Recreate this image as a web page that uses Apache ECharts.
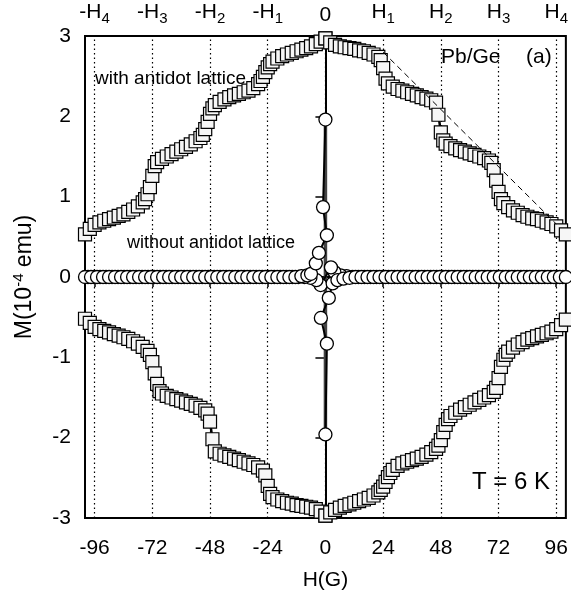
<!DOCTYPE html>
<html><head><meta charset="utf-8">
<script src="https://cdn.jsdelivr.net/npm/echarts@6/dist/echarts.min.js"></script>
<style>html,body{margin:0;padding:0;background:#fff}#c{width:571px;height:606px}</style>
</head><body><div id="c"></div>
<script>
// ---- axis ticks / labels ----
const xTicks = [-96,-72,-48,-24,0,24,48,72,96];
const xTickLabels = ['-96','-72','-48','-24','0','24','48','72','96'];
const topLabels = ['-H4','-H3','-H2','-H1','0','H1','H2','H3','H4'];

// ---- with antidot lattice (squares) ----
const ulH = [-100,-98,-96,-94,-92,-90,-88,-86,-84,-82,-80,-78,-76,-75,-74,-73,-72,-71,-70,-68,-66,-64,-62,-60,-58,-56,-54,-52,-51,-50,-49,-48,-47,-46,-44,-42,-40,-38,-36,-34,-32,-30,-28,-27,-26,-25,-24,-23,-22,-20,-18,-16,-14,-12,-10,-8,-6,-4,-2,0];
const ulM = [0.53,0.60,0.65,0.68,0.70,0.72,0.74,0.76,0.78,0.81,0.84,0.88,0.93,0.97,1.03,1.12,1.26,1.38,1.43,1.47,1.50,1.53,1.56,1.59,1.62,1.65,1.69,1.73,1.77,1.84,1.93,2.03,2.10,2.14,2.18,2.21,2.24,2.26,2.28,2.30,2.32,2.35,2.40,2.44,2.49,2.55,2.61,2.65,2.68,2.72,2.75,2.77,2.79,2.81,2.83,2.85,2.87,2.90,2.93,2.97];
const urH = [0,2,4,6,8,10,12,14,16,18,20,22,23,24,25,26,28,30,32,34,36,38,40,42,44,46,47,48,49,50,52,54,56,58,60,62,64,66,68,69,70,71,72,73,74,76,78,80,82,84,86,88,90,92,94,96,98,100];
const urM = [2.97,2.92,2.89,2.87,2.86,2.85,2.84,2.82,2.81,2.79,2.77,2.74,2.70,2.60,2.47,2.41,2.37,2.34,2.32,2.30,2.28,2.26,2.24,2.22,2.20,2.17,2.02,1.80,1.70,1.66,1.63,1.60,1.58,1.56,1.54,1.52,1.50,1.48,1.45,1.42,1.33,1.20,1.06,0.97,0.92,0.87,0.83,0.80,0.77,0.75,0.73,0.72,0.70,0.68,0.66,0.63,0.58,0.53];
const llH = [-100,-98,-96,-94,-92,-90,-88,-86,-84,-82,-80,-78,-76,-74,-73,-72,-71,-70,-69,-68,-66,-64,-62,-60,-58,-56,-54,-52,-50,-49,-48,-47,-46,-44,-42,-40,-38,-36,-34,-32,-30,-28,-26,-25,-24,-23,-22,-20,-18,-16,-14,-12,-10,-8,-6,-4,-2,0];
const llM = [-0.52,-0.57,-0.62,-0.65,-0.67,-0.69,-0.71,-0.73,-0.75,-0.77,-0.80,-0.83,-0.87,-0.92,-0.97,-1.06,-1.20,-1.33,-1.42,-1.45,-1.48,-1.50,-1.52,-1.54,-1.56,-1.58,-1.60,-1.63,-1.66,-1.70,-1.80,-2.02,-2.17,-2.20,-2.22,-2.24,-2.26,-2.28,-2.30,-2.32,-2.34,-2.37,-2.41,-2.47,-2.60,-2.70,-2.74,-2.77,-2.79,-2.81,-2.82,-2.84,-2.85,-2.86,-2.87,-2.89,-2.92,-2.97];
const lrH = [0,2,4,6,8,10,12,14,16,18,20,22,23,24,25,26,27,28,30,32,34,36,38,40,42,44,46,47,48,49,50,51,52,54,56,58,60,62,64,66,68,70,71,72,73,74,75,76,78,80,82,84,86,88,90,92,94,96,98,100];
const lrM = [-2.97,-2.93,-2.90,-2.87,-2.85,-2.83,-2.81,-2.79,-2.77,-2.75,-2.72,-2.68,-2.65,-2.61,-2.55,-2.49,-2.44,-2.40,-2.35,-2.32,-2.30,-2.28,-2.26,-2.24,-2.21,-2.18,-2.14,-2.10,-2.03,-1.93,-1.84,-1.77,-1.73,-1.69,-1.65,-1.62,-1.59,-1.56,-1.53,-1.50,-1.47,-1.43,-1.38,-1.26,-1.12,-1.03,-0.97,-0.93,-0.88,-0.84,-0.81,-0.78,-0.76,-0.74,-0.72,-0.70,-0.68,-0.65,-0.60,-0.53];

// ---- without antidot lattice (circles) ----
const cAH = [-100,-97.5,-95,-92.5,-90,-87.5,-85,-82.5,-80,-77.5,-75,-72.5,-70,-67.5,-65,-62.5,-60,-57.5,-55,-52.5,-50,-47.5,-45,-42.5,-40,-37.5,-35,-32.5,-30,-27.5,-25,-22.5,-20,-17.5,-15,-12.5,-10,-7.5,-6,-4,-2.7,0.6,-1,0];
const cAM = [0,0,0,0,0,0,0,0,0,0,0,0,0,0,0,0,0,0,0,0,0,0,0,0,0,0,0,0,0,0,0,0,0,0,0,0,0.01,0.02,0.04,0.17,0.30,0.52,0.87,1.96];
const spikeH = [0,0];
const spikeM = [1.96,-1.96];
const cBH = [0,0.6,-1.9,1.4,3,5,7.5,10,12.5,15,17.5,20,22.5,25,27.5,30,32.5,35,37.5,40,42.5,45,47.5,50,52.5,55,57.5,60,62.5,65,67.5,70,72.5,75,77.5,80,82.5,85,87.5,90,92.5,95,97.5,100];
const cBM = [-1.96,-0.83,-0.51,-0.26,-0.08,-0.04,-0.02,-0.01,0,0,0,0,0,0,0,0,0,0,0,0,0,0,0,0,0,0,0,0,0,0,0,0,0,0,0,0,0,0,0,0,0,0,0,0];
const cCH = [98.75,96.25,93.75,91.25,88.75,86.25,83.75,81.25,78.75,76.25,73.75,71.25,68.75,66.25,63.75,61.25,58.75,56.25,53.75,51.25,48.75,46.25,43.75,41.25,38.75,36.25,33.75,31.25,28.75,26.25,23.75,21.25,18.75,16.25,13.75,11.25,8.75,6.25,3.75,2.3,-2,-3.75,-6.25,-8.75,-11.25,-13.75,-16.25,-18.75,-21.25,-23.75,-26.25,-28.75,-31.25,-33.75,-36.25,-38.75,-41.25,-43.75,-46.25,-48.75,-51.25,-53.75,-56.25,-58.75,-61.25,-63.75,-66.25,-68.75,-71.25,-73.75,-76.25,-78.75,-81.25,-83.75,-86.25,-88.75,-91.25,-93.75,-96.25,-98.75];
const cCM = [0,0,0,0,0,0,0,0,0,0,0,0,0,0,0,0,0,0,0,0,0,0,0,0,0,0,0,0,0,0,0,0,0,0,0,0,0.01,0.02,0.06,0.12,-0.10,-0.04,-0.01,0,0,0,0,0,0,0,0,0,0,0,0,0,0,0,0,0,0,0,0,0,0,0,0,0,0,0,0,0,0,0,0,0,0,0,0,0];

// ---- dashed guide line ----
const dashH = [24,96];
const dashM = [2.80,0.66];

const zip = (a,b) => a.map((v,i)=>[v,b[i]]);
const FONT = 'Liberation Sans, Arial, sans-serif';

const sqStyle = {
  type:'line', symbol:'rect', symbolSize:13, showSymbol:true, showAllSymbol:true, z:3,
  lineStyle:{color:'#000', width:2.5},
  itemStyle:{color:'#f6f6f6', borderColor:'#000', borderWidth:1.2},
  animation:false
};
const ciStyle = {
  type:'line', symbol:'circle', symbolSize:13, showSymbol:true, showAllSymbol:true, z:4,
  lineStyle:{color:'#000', width:2},
  itemStyle:{color:'#fff', borderColor:'#000', borderWidth:1.3},
  animation:false
};

const chart = echarts.init(document.getElementById('c'), null, {renderer:'canvas'});
chart.setOption({
  backgroundColor:'#fff',
  animation:false,
  grid:{left:85, right:3, top:36, bottom:88, show:true, borderColor:'#000', borderWidth:2, backgroundColor:'transparent'},
  xAxis:[{
    type:'value', min:-100, max:100, position:'bottom',
    name:'H(G)', nameLocation:'middle', nameGap:52,
    nameTextStyle:{fontSize:21, color:'#000', fontFamily:FONT},
    axisLine:{show:true, lineStyle:{color:'#000', width:2}},
    axisTick:{show:true, inside:false, length:10, customValues:xTicks, lineStyle:{color:'#000', width:1.5}},
    axisLabel:{customValues:xTicks, margin:20, fontSize:21, color:'#000', fontFamily:FONT,
      formatter:v=>{const i=xTicks.indexOf(v); return i>=0?xTickLabels[i]:'';}},
    splitLine:{show:false}
  },{
    type:'value', min:-100, max:100, position:'top',
    axisLine:{show:false}, axisTick:{show:false}, splitLine:{show:false},
    axisLabel:{customValues:xTicks, margin:10, fontSize:21, color:'#000', fontFamily:FONT,
      formatter:v=>{const i=xTicks.indexOf(v); if(i<0) return ''; return topLabels[i].replace(/H(\d)/,'H{s|$1}');},
      rich:{s:{fontSize:15, fontFamily:FONT, color:'#000', padding:[12,0,0,0]}}}
  }],
  yAxis:{
    type:'value', min:-3, max:3, interval:1,
    name:'M(10{sup|-4} emu)', nameLocation:'middle', nameGap:46, nameRotate:90,
    nameTextStyle:{fontSize:23, color:'#000', fontFamily:FONT,
      rich:{sup:{fontSize:15, fontFamily:FONT, color:'#000', padding:[0,0,13,0]}}},
    axisLine:{show:true, lineStyle:{color:'#000', width:2}},
    axisTick:{show:true, inside:false, length:10, lineStyle:{color:'#000', width:1.5}},
    axisLabel:{margin:14, fontSize:21, color:'#000', fontFamily:FONT},
    splitLine:{show:false}
  },
  series:[
    {type:'line', data:[], z:0, zlevel:0, silent:true,
      markLine:{z:0, symbol:'none', silent:true, animation:false, label:{show:false},
        lineStyle:{type:[1.5,3], color:'#000', width:1.2},
        data:xTicks.map(v=>({xAxis:v}))}},
    Object.assign({}, sqStyle, {name:'ul', data:zip(ulH,ulM)}),
    Object.assign({}, sqStyle, {name:'ur', data:zip(urH,urM)}),
    Object.assign({}, sqStyle, {name:'ll', data:zip(llH,llM)}),
    Object.assign({}, sqStyle, {name:'lr', data:zip(lrH,lrM)}),
    {type:'line', name:'dash', data:zip(dashH,dashM), symbol:'none', z:5,
      lineStyle:{color:'#000', width:1, type:[6,4]}},
    {type:'line', name:'spike', data:zip(spikeH,spikeM), symbol:'none', z:3,
      lineStyle:{color:'#444', width:3.5}},
    Object.assign({}, ciStyle, {name:'cC', data:zip(cCH,cCM)}),
    Object.assign({}, ciStyle, {name:'cA', data:zip(cAH,cAM)}),
    Object.assign({}, ciStyle, {name:'cB', data:zip(cBH,cBM)})
  ],
  graphic:[
    {type:'text', left:95, top:69, style:{text:'with antidot lattice', fontSize:19, fontFamily:FONT, fill:'#000'}, z:10},
    {type:'text', left:127, top:234, style:{text:'without antidot lattice', fontSize:18, fontFamily:FONT, fill:'#000'}, z:10},
    {type:'text', left:441, top:47, style:{text:'Pb/Ge', fontSize:21, fontFamily:FONT, fill:'#000'}, z:10},
    {type:'text', left:526, top:47, style:{text:'(a)', fontSize:21, fontFamily:FONT, fill:'#000'}, z:10},
    {type:'text', left:472, top:470, style:{text:'T = 6 K', fontSize:24, fontFamily:FONT, fill:'#000'}, z:10}
  ]
});
</script></body></html>
